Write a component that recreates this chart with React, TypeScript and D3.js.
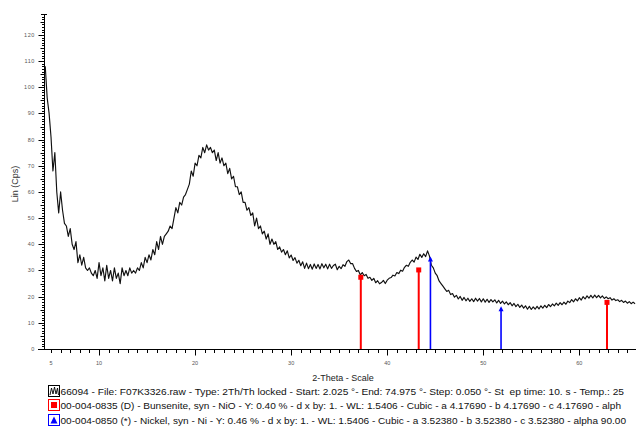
import React from "react";
import * as d3 from "d3";

const angleStart = 4.4;
const angleStep = 0.2;
const counts: number[] = [
  108, 96, 90, 81, 68,
  75, 60, 52, 60, 53,
  48, 47, 43, 46, 40,
  38, 41, 33, 36, 32,
  35, 31, 30, 31, 29,
  28, 30, 27, 33, 28,
  31, 26, 32, 27, 30,
  26, 31, 27, 29, 25,
  31, 28, 30, 28, 31,
  29, 30, 29, 31, 30,
  33, 31, 35, 33, 36,
  34, 38, 36, 41, 38,
  43, 40, 43, 44, 45,
  47, 46, 50, 54, 52,
  56, 55, 58, 59, 61,
  63, 68, 66, 71, 70,
  74, 73, 77, 75, 78,
  76, 77, 75, 76, 72,
  75, 71, 73, 70, 71,
  67, 69, 65, 66, 62,
  62, 59, 60, 56, 56,
  53, 54, 51, 52, 47,
  50, 46, 47, 44, 45,
  42, 44, 40, 42, 40,
  41, 38, 39, 37, 38,
  36, 37.5, 34.8, 35.9, 33.8,
  34.9, 32.8, 33.9, 31.8, 33.3,
  30.8, 32.8, 30.7, 32.3, 30.5,
  32.5, 30.8, 32.3, 30.6, 32.6,
  31, 32.4, 30.6, 32.4, 30.8,
  31.9, 32.4, 30.3, 31.6, 30.7,
  32.2, 31.6, 33.4, 34, 32.6,
  32.6, 30.8, 29.6, 30, 28.3,
  29.2, 28, 28.5, 27, 27.4,
  26.2, 27, 25.3, 26.1, 24.9,
  25.4, 26.2, 25, 26.3, 27,
  27.3, 28.2, 27.9, 29.2, 28.8,
  30.1, 29.7, 31.2, 32, 31.6,
  33.1, 34, 33.2, 35.1, 34.2,
  36.2, 35, 36.4, 35.3, 37.5,
  35.5, 32, 31, 29, 28,
  26, 25, 24, 23, 22,
  22.4, 20.8, 21.2, 19.8, 20.5,
  19.1, 20.1, 18.6, 19.7, 18.4,
  19.4, 18.2, 19.2, 18.1, 19.4,
  18.3, 19.3, 18, 19.2, 17.9,
  19, 17.8, 18.9, 18, 18.8,
  17.6, 18.6, 17.4, 18.3, 17.2,
  18, 16.9, 17.7, 16.5, 17.4,
  16.2, 17.1, 15.9, 16.8, 15.6,
  16.5, 15.2, 16.3, 15.1, 16.1,
  15.2, 16.3, 15.3, 16.5, 15.6,
  16.7, 15.8, 17, 16.2, 17.2,
  16.5, 17.5, 16.7, 17.7, 16.9,
  17.9, 17.1, 18.3, 17.7, 18.9,
  18, 19.2, 18.4, 19.6, 18.7,
  20, 19.1, 20.3, 19.4, 20.5,
  19.5, 20.6, 19.6, 20.5, 19.5,
  20.3, 19.3, 19.9, 19.2, 19.6,
  18.7, 19.2, 18.5, 18.8, 18.1,
  18.6, 17.8, 18.3, 17.5, 18.1,
  17.3, 17.9, 17.3,
];

const nioAngles = [37.25, 43.28, 62.88];
const nioHeights = [27.6, 30.4, 18.0];
const niAngles = [44.5, 51.85];
const niHeights = [34.6, 15.6];

const xTickLabels = [5, 10, 20, 30, 40, 50, 60];
const yTickLabels = [0, 10, 20, 30, 40, 50, 60, 70, 80, 90, 100, 110, 120];

const legendTexts = [
  "66094 - File: F07K3326.raw - Type: 2Th/Th locked - Start: 2.025 °- End: 74.975 °- Step: 0.050 °- St  ep time: 10. s - Temp.: 25",
  "00-004-0835 (D) - Bunsenite, syn - NiO - Y: 0.40 % - d x by: 1. - WL: 1.5406 - Cubic - a 4.17690 - b 4.17690 - c 4.17690 - alph",
  "00-004-0850 (*) - Nickel, syn - Ni - Y: 0.46 % - d x by: 1. - WL: 1.5406 - Cubic - a 3.52380 - b 3.52380 - c 3.52380 - alpha 90.00",
];

const FONT = "'Liberation Sans', Arial, sans-serif";

export default function App() {
  const W = 636, H = 429;
  const x = d3.scaleLinear().domain([4.27, 65.9]).range([44, 636]);
  const y = d3.scaleLinear().domain([0, 127.6]).range([349, 15]);
  const pts: [number, number][] = counts.map((c, i) => [angleStart + i * angleStep, c]);
  const line = d3.line<[number, number]>().x(d => x(d[0])).y(d => y(d[1]));

  const yMinor = d3.range(0, 128, 1);
  const xMinor = d3.range(5, 66, 1);

  const legendY = [391, 405, 420];
  const legendEnds = [624, 621, 626];

  return (
    <svg width={W} height={H} style={{ position: "absolute", left: 0, top: 0, background: "#fff" }}>
      <rect width={W} height={H} fill="#fff" />
      {/* Y axis */}
      <line x1={44.5} x2={44.5} y1={14} y2={349} stroke="#000" strokeWidth={1} />
      {yMinor.map(v => {
        const len = v % 10 === 0 ? 6 : v % 5 === 0 ? 4 : 2.5;
        return <line key={"ym" + v} x1={44.5 - len} x2={44.5} y1={Math.round(y(v)) + 0.5} y2={Math.round(y(v)) + 0.5} stroke="#000" strokeWidth={1} />;
      })}
      <line x1={41} x2={47} y1={14.5} y2={14.5} stroke="#000" strokeWidth={1} />
      {yTickLabels.map(v => (
        <text key={"yl" + v} x={35} y={y(v) + 2} fontSize={5.5} textAnchor="end" fill="#555" fontFamily={FONT} letterSpacing={0.6}>{v}</text>
      ))}
      {/* X axis */}
      <line x1={38} x2={636} y1={349.5} y2={349.5} stroke="#000" strokeWidth={1} />
      {xMinor.map(v => {
        const len = v % 10 === 0 ? 6 : 3.5;
        const px = Math.round(x(v)) + 0.5;
        return <line key={"xm" + v} x1={px} x2={px} y1={349.5} y2={349.5 + len} stroke="#000" strokeWidth={1} />;
      })}
      {xTickLabels.map(v => (
        <text key={"xl" + v} x={x(v)} y={365} fontSize={5.5} textAnchor="middle" fill="#555" fontFamily={FONT}>{v}</text>
      ))}
      {/* Axis titles */}
      <text transform="translate(18,184) rotate(-90)" fontSize={9} textAnchor="middle" fill="#333" fontFamily={FONT}>Lin (Cps)</text>
      <text x={343} y={381} fontSize={9} textAnchor="middle" fill="#222" fontFamily={FONT}>2-Theta - Scale</text>
      {/* Data curve */}
      <path d={line(pts) || ""} fill="none" stroke="#111" strokeWidth={1.15} strokeLinejoin="round" />
      {/* Stick patterns */}
      {nioAngles.map((a, i) => (
        <g key={"nio" + i}>
          <line x1={x(a)} x2={x(a)} y1={349} y2={y(nioHeights[i])} stroke="#ff0000" strokeWidth={2} />
          <rect x={x(a) - 2.5} y={y(nioHeights[i]) - 2} width={5} height={5} fill="#ff0000" />
        </g>
      ))}
      {niAngles.map((a, i) => (
        <g key={"ni" + i}>
          <line x1={x(a)} x2={x(a)} y1={349} y2={y(niHeights[i])} stroke="#0000ff" strokeWidth={1.6} />
          <path d={`M${x(a) - 2.5},${y(niHeights[i]) + 3} L${x(a)},${y(niHeights[i]) - 2} L${x(a) + 2.5},${y(niHeights[i]) + 3} Z`} fill="#0000ff" />
        </g>
      ))}
      {/* Legend */}
      <g>
        <rect x={48.5} y={legendY[0] - 5.5} width={11} height={11} fill="#fff" stroke="#000" strokeWidth={1} />
        <path d={`M50,${legendY[0] + 4} L51.5,${legendY[0] - 3} L53,${legendY[0] + 3} L54.5,${legendY[0] - 4} L56,${legendY[0] + 3} L57.5,${legendY[0] - 3} L58.5,${legendY[0] + 4}`} fill="none" stroke="#000" strokeWidth={0.9} />
        <rect x={48.5} y={legendY[1] - 5.5} width={11} height={11} fill="#fff" stroke="#ff0000" strokeWidth={1} />
        <rect x={51} y={legendY[1] - 3} width={6} height={6} fill="#ff0000" />
        <rect x={48.5} y={legendY[2] - 5.5} width={11} height={11} fill="#fff" stroke="#0000ff" strokeWidth={1} />
        <path d={`M50.5,${legendY[2] + 3.5} L54,${legendY[2] - 3.5} L57.5,${legendY[2] + 3.5} Z`} fill="#0000ff" />
        {legendTexts.map((t, i) => (
          <text key={"lg" + i} x={60.5} y={legendY[i] + 3.5} fontSize={9} fill="#111" fontFamily={FONT}
            textLength={legendEnds[i] - 60.5} lengthAdjust="spacingAndGlyphs" style={{ whiteSpace: "pre" }}>{t}</text>
        ))}
      </g>
    </svg>
  );
}
